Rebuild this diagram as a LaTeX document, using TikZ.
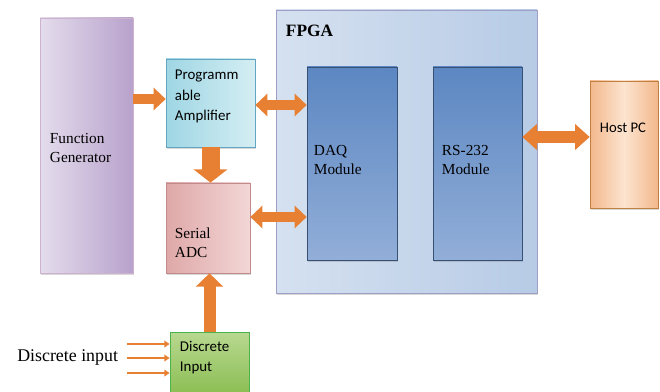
\documentclass[tikz,border=0pt]{standalone}
\usepackage{fontspec}
\setmainfont{Liberation Serif}
\newfontfamily\calibri{Carlito}
\usetikzlibrary{arrows.meta, positioning, calc, shadows}

\definecolor{arroworange}{RGB}{232,128,52}
\definecolor{daqblue}{RGB}{92,135,194}
\definecolor{daqlight}{RGB}{146,174,216}

\begin{document}
\begin{tikzpicture}[
    x=0.75pt, y=-0.75pt,
    box/.style={rectangle, draw=#1, line width=0.5pt, inner sep=0pt,
        drop shadow={shadow xshift=0.8pt, shadow yshift=-1.2pt, opacity=0.3}},
    serif/.style={inner sep=0pt, align=left, font=\fontsize{11.5}{14.5}\selectfont},
    sans/.style={inner sep=0pt, align=left, font=\calibri\fontsize{11.2}{15.2}\selectfont},
    fatarrow/.style={draw=arroworange, line width=7.5pt, -{Triangle[width=16.5pt,length=9pt]}},
    bothways/.style={draw=arroworange, line width=7.5pt,
        {Triangle[width=16.5pt,length=9pt]}-{Triangle[width=16.5pt,length=9pt]}},
    inarrow/.style={draw=arroworange, line width=1.5pt, -{Triangle[width=5pt,length=4pt]}}
]
\useasboundingbox[fill=white] (0,0) rectangle (660,392);

% Boxes
\node[box=gray!50!violet!40, left color={rgb,255:red,228;green,220;blue,236}, right color={rgb,255:red,184;green,162;blue,204},
    minimum width=69.75pt, minimum height=191.25pt] (fg) at (86.5,145.5) {};
\node[box=cyan!50!gray, left color={rgb,255:red,159;green,214;blue,228}, right color={rgb,255:red,212;green,238;blue,243},
    minimum width=66.75pt, minimum height=66pt] (pa) at (210.5,103) {};
\node[box=red!30!gray!70, left color={rgb,255:red,223;green,168;blue,168}, right color={rgb,255:red,243;green,214;blue,214},
    minimum width=63pt, minimum height=67.5pt] (adc) at (208,228) {};
\node[box=green!40!gray, top color={rgb,255:red,184;green,216;blue,144}, bottom color={rgb,255:red,141;green,191;blue,85},
    minimum width=59.25pt, minimum height=45pt] (di) at (209.5,362) {};
\node[box=blue!25!gray!60, left color={rgb,255:red,213;green,225;blue,240}, right color={rgb,255:red,183;green,203;blue,230},
    minimum width=195.75pt, minimum height=212.25pt] (fpga) at (406.5,151.5) {};
\node[box=daqblue!60!black, top color=daqblue, bottom color=daqlight,
    minimum width=67.5pt, minimum height=144.75pt] (daq) at (352,163.5) {};
\node[box=daqblue!60!black, top color=daqblue, bottom color=daqlight,
    minimum width=66.75pt, minimum height=144.75pt] (rs) at (477.5,163.5) {};
\node[box=orange!50!gray, left color={rgb,255:red,243;green,184;blue,140}, right color={rgb,255:red,243;green,184;blue,140}, middle color={rgb,255:red,252;green,228;blue,208},
    minimum width=51pt, minimum height=95.25pt] (host) at (624,144.5) {};

% Texts
\node[serif, right=7.5pt of fg.west, yshift=-2pt] (fgtxt) {Function\\Generator};
\node[sans, right=6.75pt of pa.west, yshift=4.9pt] (patxt) {Programm\\able\\Amplifier};
\node[serif, right=6.75pt of adc.west, yshift=-11.3pt] (adctxt) {Serial\\ADC};
\node[sans, right=7.5pt of di.west, yshift=3.5pt] (ditxt) {Discrete\\Input};
\node[serif, right=5.25pt of daq.west, yshift=2.5pt] (daqtxt) {DAQ\\Module};
\node[serif, right=6.75pt of rs.west, yshift=2.5pt] (rstxt) {RS-232\\Module};
\node[sans, right=7.5pt of host.west, yshift=12.4pt, font=\calibri\fontsize{11}{13}\selectfont] (hosttxt) {Host PC};
\node[inner sep=0pt, anchor=north west, font=\fontsize{13}{15}\selectfont\bfseries] (fpgatxt) at ([xshift=7.5pt,yshift=-11pt]fpga.north west) {FPGA};
\node[inner sep=0pt, anchor=west, font=\fontsize{13.4}{16}\selectfont] (inlabel) at (17,357) {Discrete input};

% Connectors
\coordinate (hostin) at ($(host.west)+(0,-7.5)$);
\coordinate (in1) at (127,344);
\coordinate (in2) at (127,358);
\coordinate (in3) at (127,373);

\draw[fatarrow] ($(fg.east |- pa.west)+(0,-4)$) -- ($(pa.west)+(0,-4)$);
\draw[bothways] ($(pa.east)+(0,2)$) -- ($(pa.east -| daq.west)+(0,2)$);
\draw[fatarrow, line width=13.5pt, -{Triangle[width=25pt,length=10pt]}] (pa.south) -- (pa.south |- adc.north);
\draw[bothways] ($(adc.east)+(0,-11)$) -- ($(adc.east -| daq.west)+(0,-11)$);
\draw[fatarrow, line width=9pt, -{Triangle[width=20pt,length=10pt]}] (di.north) -- (di.north |- adc.south);
\draw[bothways, line width=9pt, {Triangle[width=19pt,length=11pt]}-{Triangle[width=19pt,length=11pt]}] (hostin -| rs.east) -- (hostin);
\foreach \i in {1,2,3}
    \draw[inarrow] (in\i) -- (in\i -| di.west);

\end{tikzpicture}
\end{document}
